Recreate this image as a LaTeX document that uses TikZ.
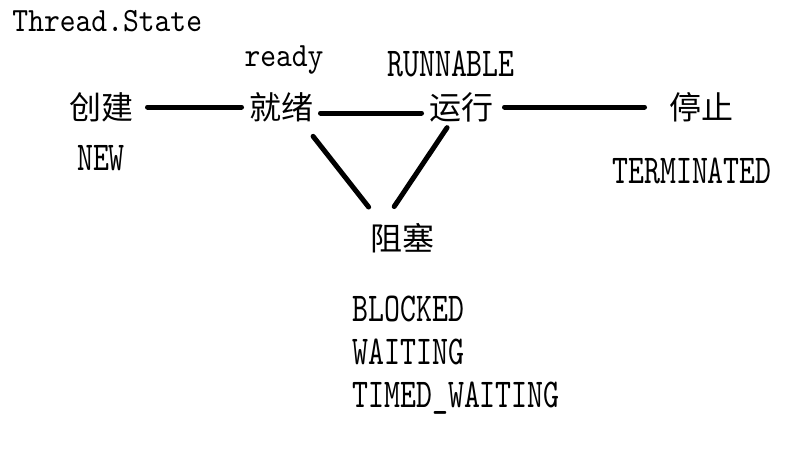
\documentclass[tikz,border=0pt]{standalone}
\usepackage{fontspec}
\usepackage{tikz}
\newfontfamily\cjk{Noto Sans CJK SC}
\newfontfamily\monotxt{lmmono10-regular.otf}[FakeStretch=0.885]
\newfontfamily\captxt{lmmono10-regular.otf}[FakeStretch=0.74]

\begin{document}
\begin{tikzpicture}[x=1pt, y=1pt, node distance=180pt]
    \tikzstyle{stateword} = [inner sep=5pt, font=\cjk\fontsize{32}{32}\selectfont]
    \tikzstyle{monoword} = [inner sep=0pt, font=\monotxt\fontsize{34}{34}\selectfont]
    \tikzstyle{enumword} = [inner sep=0pt, font=\captxt\fontsize{41}{43}\selectfont]
    \tikzstyle{link} = [draw, line width=5pt, line cap=round]

    \useasboundingbox (0,0) rectangle (786,-471);

	\begin{scope}
		\path[-, link]
			node[stateword] (new) at (101,-107) {创建}
			node[stateword, right of=new] (ready) {就绪}
			node[stateword, right of=ready] (run) {运行}
			node[stateword, node distance=240pt, right of=run] (stop) {停止}
			node[stateword] (blocked) at (402,-238) {阻塞}

			node[monoword, anchor=west] (title) at (10,-21) {Thread.State}
			node[monoword, node distance=47pt, above of=ready, xshift=3pt] (ready_lbl) {ready}
			node[enumword, node distance=43pt, above of=run, xshift=-10pt] (run_lbl) {RUNNABLE}
			node[enumword, node distance=51pt, below of=new] (new_lbl) {NEW}
			node[enumword, node distance=64pt, below of=stop, xshift=-9pt] (stop_lbl) {TERMINATED}
			node[enumword, anchor=west, align=left] (blocked_lbl) at (350,-355)
				{BLOCKED\\WAITING\\TIMED\_WAITING}

			(new) edge[shorten <=7pt] (ready)

			([yshift=-6pt]ready.east) edge ([yshift=-6pt]run.west)

			(run) edge[shorten <=4pt, shorten >=17pt] (stop)

			(ready.-40) edge[shorten <=9pt, shorten >=11pt] (blocked.140)
			(run.-124) edge[shorten <=-2pt, shorten >=11pt] (blocked.122)
		;
	\end{scope}
\end{tikzpicture}
\end{document}
